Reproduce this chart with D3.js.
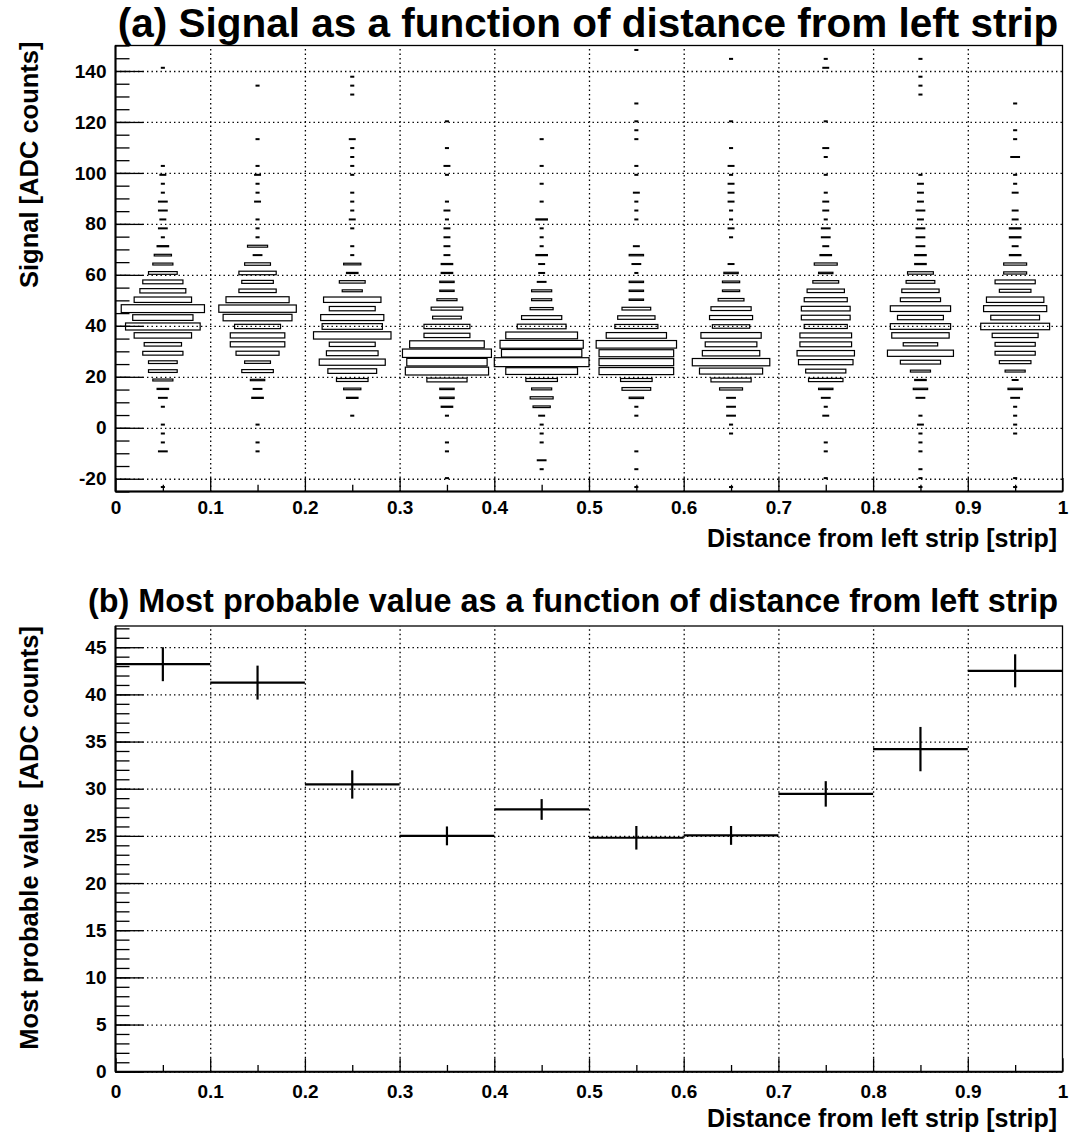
<!DOCTYPE html>
<html>
<head>
<meta charset="utf-8">
<script src="https://cdn.jsdelivr.net/npm/d3@7"></script>
<style>
  html, body { margin: 0; padding: 0; background: #fff; }
  svg { display: block; }
  text { font-family: "Liberation Sans", Arial, Helvetica, sans-serif; font-weight: bold; fill: #000; }
</style>
</head>
<body>
<svg id="chart" width="1071" height="1135"></svg>
<script>
// ---------------- DATA ----------------
// Panel (a): 2D histogram, 10 x-bins (width 0.1) by 50 y-bins of 3.5 ADC counts from -25 to 150.
const xBinEdgesA = [0, 0.1, 0.2, 0.3, 0.4, 0.5, 0.6, 0.7, 0.8, 0.9, 1.0];
const signalBinLow = -25;
const signalBinWidth = 3.5;
// counts per y-bin (index 0 = [-25,-21.5) ... index 49 = [146.5,150))
const counts_0_01 = [1,0,0,0,3,1,1,1,0,1, 3,4,7,10,10,14,13,20,26,21, 29,20,16,14,10,7,6,4,1,3, 2,3,3,1,1,2,1,0,0,0, 0,0,0,0,0,0,0,1,0,0];
const counts_01_02 = [0,0,0,0,1,1,0,1,0,0, 4,3,5,11,9,15,19,19,16,24, 27,22,13,11,13,9,3,7,1,1, 1,0,2,1,1,2,1,0,0,1, 0,0,0,0,0,1,0,0,0,0];
const counts_02_03 = [0,0,0,0,0,0,0,0,1,0, 4,6,11,17,23,18,16,27,21,22, 16,20,7,9,4,6,1,1,0,1, 2,1,1,1,0,1,1,1,1,2, 0,0,0,0,1,1,1,0,0,0];
const counts_03_04 = [0,1,0,0,1,1,0,0,1,4, 5,5,14,29,28,31,26,16,16,10, 11,7,5,5,4,4,2,2,2,2, 1,2,1,0,0,1,2,0,1,0, 0,1,0,0,0,0,0,0,0,0];
const counts_04_05 = [0,0,1,3,0,1,1,1,2,6, 8,7,11,25,33,28,29,25,17,14, 8,7,7,3,2,2,4,1,1,1, 4,0,1,0,1,0,1,0,0,1, 0,0,0,0,0,0,0,0,0,0];
const counts_05_06 = [1,0,1,0,1,0,0,0,1,1, 5,10,11,26,26,26,28,21,15,13, 10,5,5,5,1,3,5,2,0,0, 1,1,1,2,0,1,1,0,0,1, 1,1,0,1,0,0,0,0,0,1];
const counts_06_07 = [1,0,0,0,0,0,1,1,3,3, 3,8,14,22,27,20,18,21,13,15, 14,9,6,6,5,2,0,0,1,2, 1,1,2,2,2,1,2,0,1,0, 0,1,0,0,0,0,0,0,1,0];
const counts_07_08 = [0,1,0,0,1,1,0,0,2,1, 3,5,12,14,19,20,18,18,15,17, 17,15,13,9,5,8,4,2,3,3, 1,2,2,1,0,1,0,1,2,0, 0,1,0,0,0,0,0,2,1,0];
const counts_08_09 = [1,1,1,0,1,1,1,2,1,0, 3,5,4,7,14,23,12,20,21,16, 21,14,13,10,9,4,4,3,3,3, 2,3,2,2,2,1,0,0,0,0, 0,0,0,0,1,1,1,0,1,0];
const counts_09_10 = [1,1,0,0,0,0,1,1,1,1, 3,5,2,7,11,14,14,16,24,17, 22,20,11,14,8,8,4,2,4,4, 2,2,0,2,1,1,0,3,0,1, 1,0,0,1,0,0,0,0,0,0];

// Panel (b): most probable value per x-bin, with errors
const mpvValue = [43.2, 41.25, 30.45, 25.0, 27.8, 24.8, 25.05, 29.45, 34.2, 42.5];
const mpvError = [1.8, 1.8, 1.5, 1.0, 1.1, 1.25, 1.0, 1.35, 2.35, 1.75];

// Tick values
const xMajorTicks = [0, 0.1, 0.2, 0.3, 0.4, 0.5, 0.6, 0.7, 0.8, 0.9, 1.0];
const xMinorTicks = [0.05, 0.15, 0.25, 0.35, 0.45, 0.55, 0.65, 0.75, 0.85, 0.95];
const yMajorTicksA = [-20, 0, 20, 40, 60, 80, 100, 120, 140];
const yMajorTicksB = [0, 5, 10, 15, 20, 25, 30, 35, 40, 45];

// Texts
const titleA = "(a) Signal as a function of distance from left strip";
const titleB = "(b) Most probable value as a function of distance from left strip";
const xTitle = "Distance from left strip [strip]";
const yTitleA = "Signal [ADC counts]";
const yTitleB = "Most probable value  [ADC counts]";

// ---------------- DRAWING ----------------
const svg = d3.select("#chart");
svg.append("rect").attr("width", 1071).attr("height", 1135).attr("fill", "#fff");

const left = 115.5, right = 1062.5;
const panelA = { top: 45.5, bottom: 491.5, domain: [-25, 150] };
const panelB = { top: 626, bottom: 1071.7, domain: [0, 47.25] };

const x = d3.scaleLinear().domain([0, 1]).range([left, right]);
const yA = d3.scaleLinear().domain(panelA.domain).range([panelA.bottom, panelA.top]);
const yB = d3.scaleLinear().domain(panelB.domain).range([panelB.bottom, panelB.top]);

const fmtX = d => String(+(+d).toFixed(2));
const fmtY = d => String(d);

function drawFrameAxes(y, panel, yMajor, yMinorStep, xLabelPad) {
  const g = svg.append("g");
  const h = panel.bottom - panel.top;
  const w = right - left;
  const [y0, y1] = panel.domain;

  // grid (dotted)
  const gx = g.append("g").attr("transform", `translate(0,${panel.bottom})`)
    .call(d3.axisBottom(x).tickValues(xMajorTicks.filter(v => v > 0 && v < 1)).tickSize(-h).tickFormat(""));
  const gy = g.append("g").attr("transform", `translate(${left},0)`)
    .call(d3.axisLeft(y).tickValues(yMajor).tickSize(-w).tickFormat(""));
  [gx, gy].forEach(s => {
    s.select(".domain").remove();
    s.selectAll("line").attr("stroke", "#000").attr("stroke-width", 1.3).attr("stroke-dasharray", "1.4,3.1");
  });

  // frame
  g.append("rect").attr("x", left).attr("y", panel.top).attr("width", w).attr("height", h)
    .attr("fill", "none").attr("stroke", "#000").attr("stroke-width", 1.3);

  // y minor ticks
  const yMinor = d3.range(Math.ceil(y0 / yMinorStep) * yMinorStep, y1 + 1e-9, yMinorStep);
  const ym = g.append("g").attr("transform", `translate(${left},0)`)
    .call(d3.axisLeft(y).tickValues(yMinor).tickSize(-14).tickSizeOuter(0).tickFormat(""));
  ym.select(".domain").remove();
  ym.selectAll("line").attr("stroke", "#000").attr("stroke-width", 1.3);

  // y major ticks + labels
  const yM = g.append("g").attr("transform", `translate(${left},0)`)
    .call(d3.axisLeft(y).tickValues(yMajor).tickSize(-28).tickSizeOuter(0).tickPadding(9).tickFormat(fmtY));
  yM.select(".domain").attr("stroke", "#000").attr("stroke-width", 2).attr("d", `M0,${panel.bottom}V${panel.top}`);
  yM.selectAll("line").attr("stroke", "#000").attr("stroke-width", 1.3);
  yM.selectAll("text").attr("font-size", 19).attr("font-family", "Liberation Sans, Arial, sans-serif")
    .attr("font-weight", "bold").attr("fill", "#000");

  // x minor ticks
  const xm = g.append("g").attr("transform", `translate(0,${panel.bottom})`)
    .call(d3.axisBottom(x).tickValues(xMinorTicks).tickSize(-6.7).tickSizeOuter(0).tickFormat(""));
  xm.select(".domain").remove();
  xm.selectAll("line").attr("stroke", "#000").attr("stroke-width", 1.3);

  // x major ticks + labels
  const xM = g.append("g").attr("transform", `translate(0,${panel.bottom})`)
    .call(d3.axisBottom(x).tickValues(xMajorTicks).tickSize(-13.4).tickSizeOuter(0).tickPadding(xLabelPad).tickFormat(fmtX));
  xM.select(".domain").attr("stroke", "#000").attr("stroke-width", 2).attr("d", `M${left},0H${right}`);
  xM.selectAll("line").attr("stroke", "#000").attr("stroke-width", 1.3);
  xM.selectAll("text").attr("font-size", 19).attr("font-family", "Liberation Sans, Arial, sans-serif")
    .attr("font-weight", "bold").attr("fill", "#000");
  return g;
}

// ---- Panel (a) ----
drawFrameAxes(yA, panelA, yMajorTicksA, 5, 9);

const columnsA = [counts_0_01, counts_01_02, counts_02_03, counts_03_04, counts_04_05,
                  counts_05_06, counts_06_07, counts_07_08, counts_08_09, counts_09_10];
const cells = [];
columnsA.forEach((col, i) => {
  col.forEach((c, k) => {
    if (c > 0) cells.push({
      x0: xBinEdgesA[i], x1: xBinEdgesA[i + 1],
      y0: signalBinLow + k * signalBinWidth, y1: signalBinLow + (k + 1) * signalBinWidth,
      c
    });
  });
});
const cmax = d3.max(cells, d => d.c);
const ratio = d3.scaleLinear().domain([0, cmax]).range([0, 1]);

svg.append("g").selectAll("rect").data(cells).join("rect")
  .attr("x", d => { const cx = (x(d.x0) + x(d.x1)) / 2; const w = (x(d.x1) - x(d.x0)) * ratio(d.c); return cx - w / 2; })
  .attr("y", d => { const cy = (yA(d.y0) + yA(d.y1)) / 2; const h = Math.max(0.8, (yA(d.y0) - yA(d.y1)) * ratio(d.c)); return cy - h / 2; })
  .attr("width", d => (x(d.x1) - x(d.x0)) * ratio(d.c))
  .attr("height", d => Math.max(0.8, (yA(d.y0) - yA(d.y1)) * ratio(d.c)))
  .attr("fill", "none").attr("stroke", "#000").attr("stroke-width", 1.2);

svg.append("text").attr("x", 588).attr("y", 37).attr("text-anchor", "middle")
  .attr("font-size", 40.5).text(titleA);
svg.append("text").attr("x", 1057).attr("y", 547).attr("text-anchor", "end")
  .attr("font-size", 25).text(xTitle);
svg.append("text").attr("transform", `translate(38,${panelA.top - 4}) rotate(-90)`).attr("text-anchor", "end")
  .attr("font-size", 25.5).text(yTitleA);

// ---- Panel (b) ----
drawFrameAxes(yB, panelB, yMajorTicksB, 1, 13);

const pts = mpvValue.map((v, i) => ({ x0: xBinEdgesA[i], x1: xBinEdgesA[i + 1], v, e: mpvError[i] }));
const gb = svg.append("g");
gb.selectAll("line.h").data(pts).join("line").attr("class", "h")
  .attr("x1", d => x(d.x0)).attr("x2", d => x(d.x1))
  .attr("y1", d => yB(d.v)).attr("y2", d => yB(d.v))
  .attr("stroke", "#000").attr("stroke-width", 2.2);
gb.selectAll("line.v").data(pts).join("line").attr("class", "v")
  .attr("x1", d => x((d.x0 + d.x1) / 2)).attr("x2", d => x((d.x0 + d.x1) / 2))
  .attr("y1", d => yB(d.v - d.e)).attr("y2", d => yB(d.v + d.e))
  .attr("stroke", "#000").attr("stroke-width", 2.2);

svg.append("text").attr("x", 573).attr("y", 612).attr("text-anchor", "middle")
  .attr("font-size", 32.4).text(titleB);
svg.append("text").attr("x", 1057).attr("y", 1127).attr("text-anchor", "end")
  .attr("font-size", 25).text(xTitle);
svg.append("text").attr("transform", `translate(38,${panelB.top}) rotate(-90)`).attr("text-anchor", "end")
  .attr("font-size", 25.5).attr("xml:space", "preserve").style("white-space", "pre").text(yTitleB);
</script>
</body>
</html>
